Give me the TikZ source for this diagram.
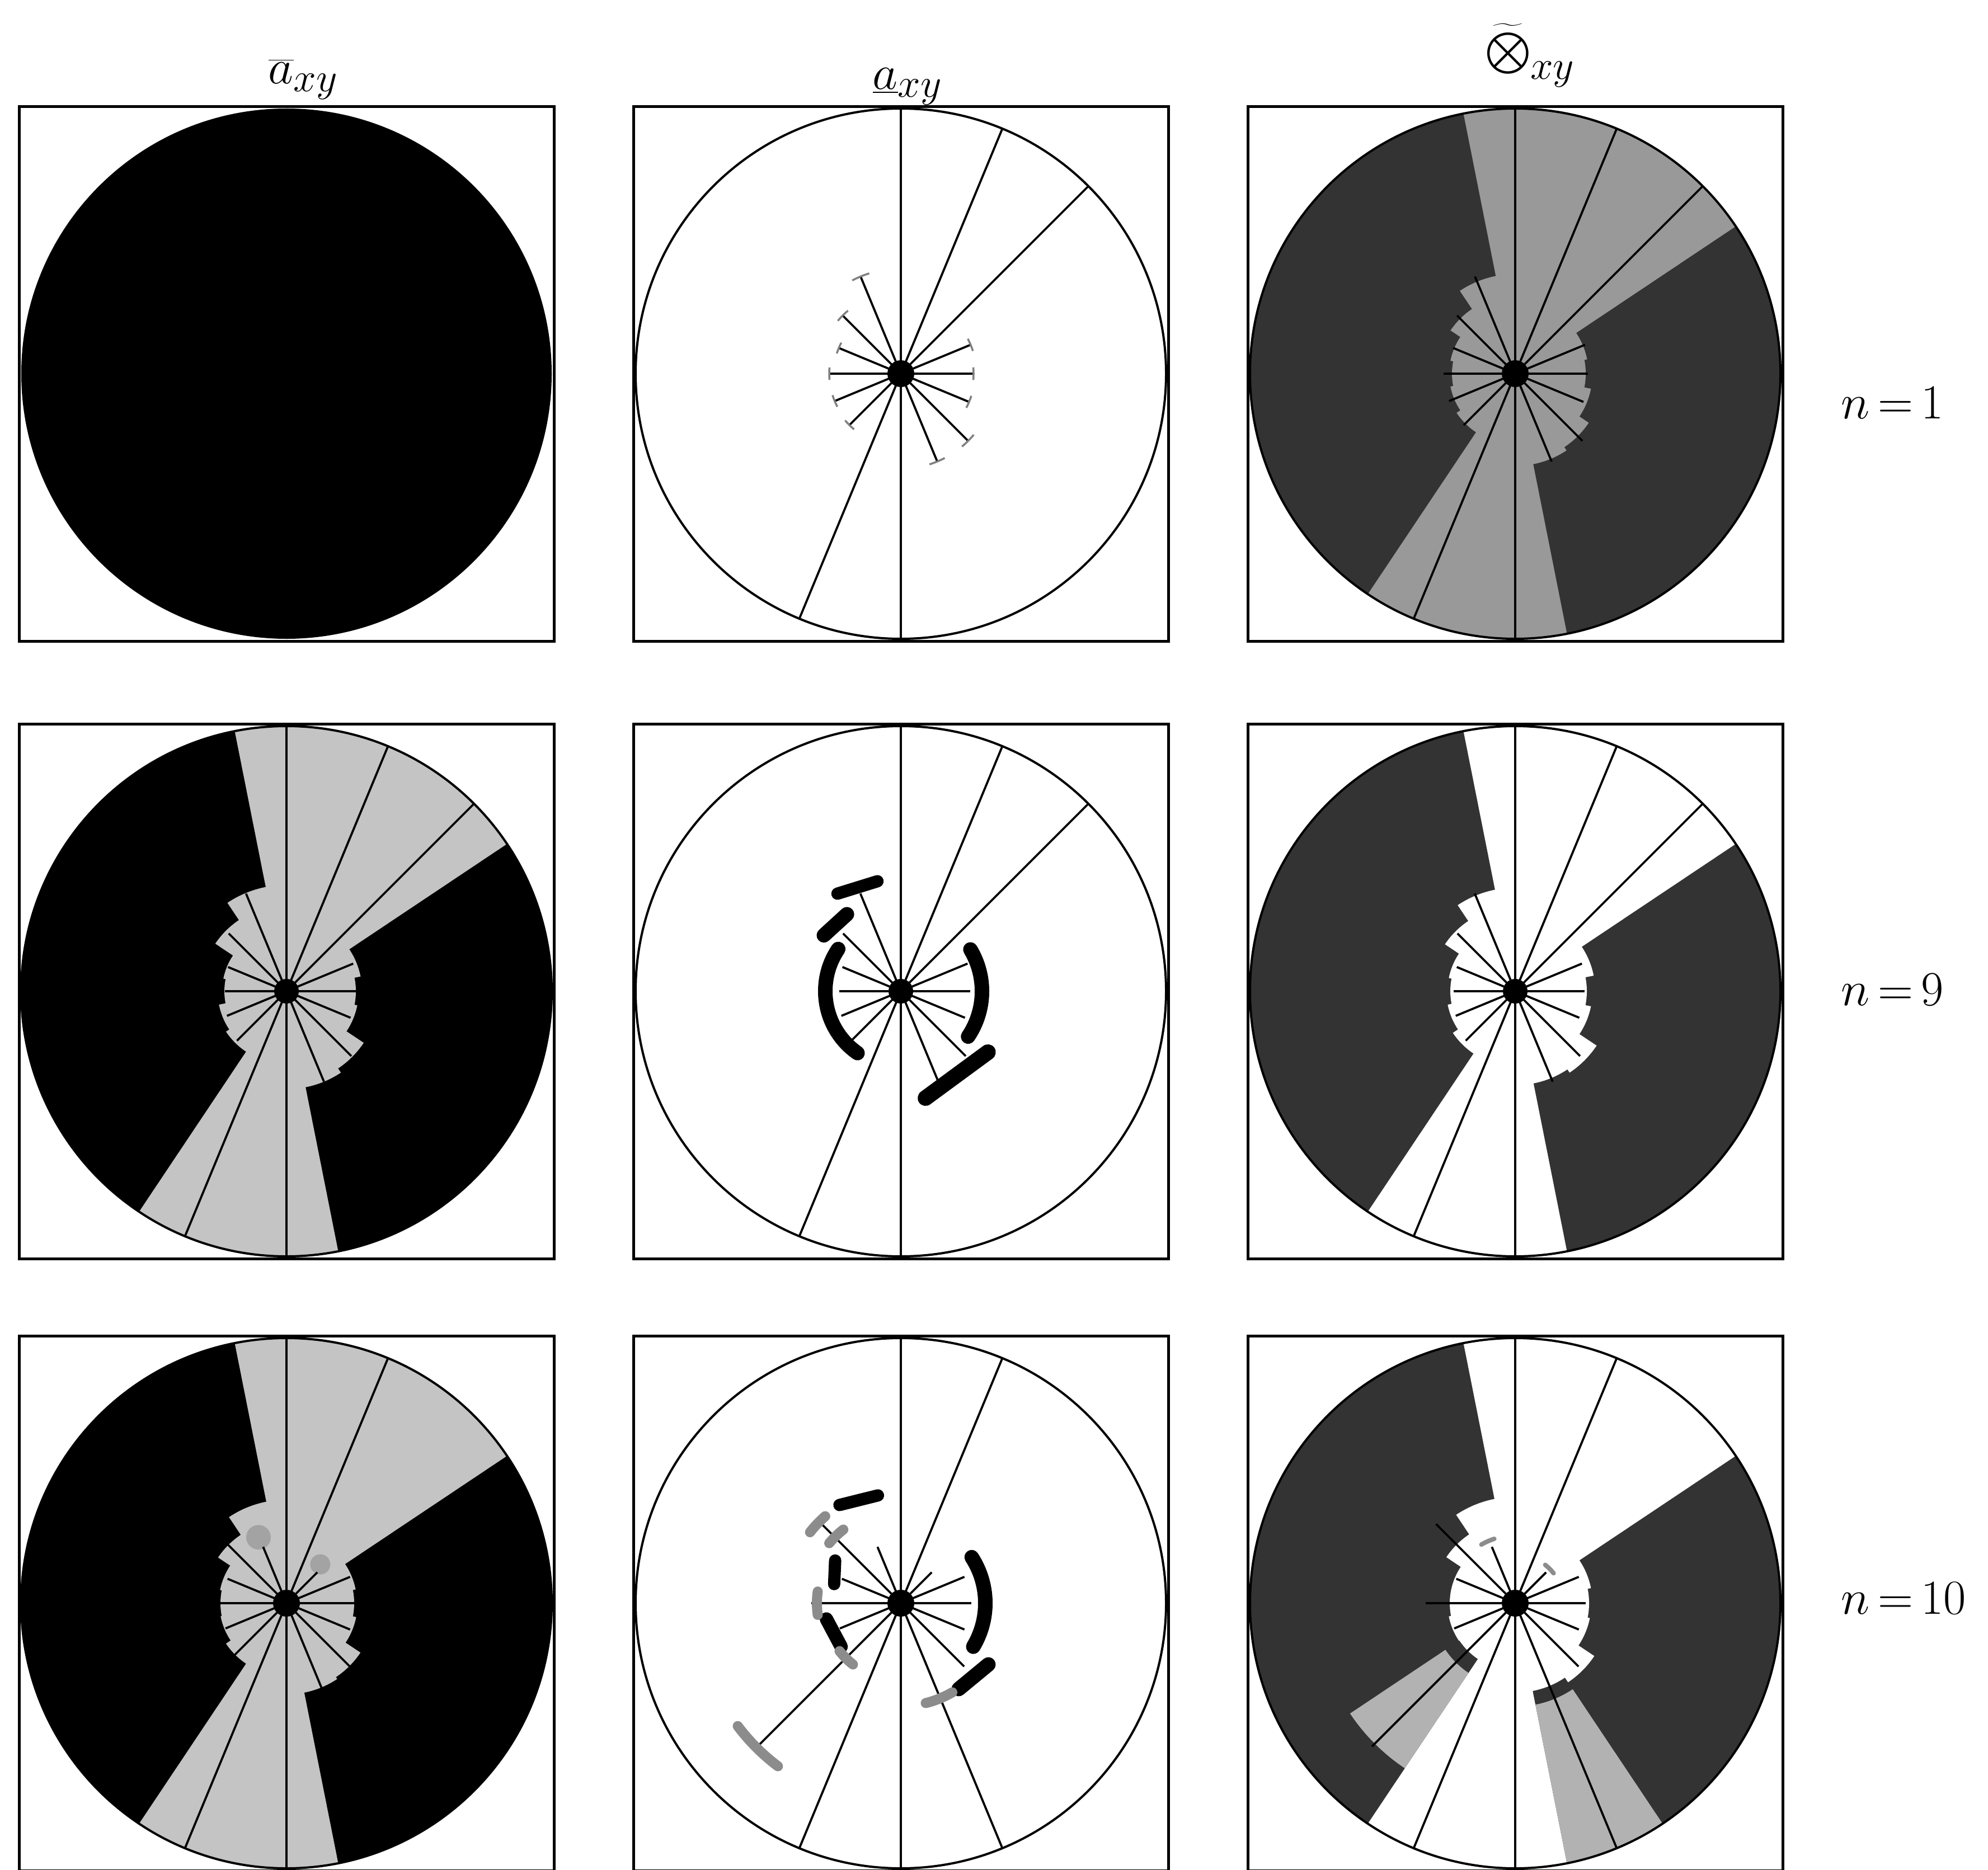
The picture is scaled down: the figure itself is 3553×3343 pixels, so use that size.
\documentclass[tikz,border=0pt]{standalone}
\usepackage{graphicx}
\usepackage{tikz}

\colorlet{dark}{black!80}
\colorlet{mid}{black!40}
\colorlet{lite}{black!23}
\colorlet{pale}{black!30}

% spoke lengths (angle/length) for n=1, n=9, n=10
\def\spokesA{0/130,22.5/135,45/474,67.5/474,90/478,112.5/188,135/147,157.5/120,180/128,202.5/128,225/130,247.5/474,270/478,292.5/170,315/170,337.5/132}
\def\spokesB{0/124,22.5/129,45/474,67.5/474,90/478,112.5/189,135/146,157.5/113,180/110,202.5/115,225/125,247.5/474,270/478,292.5/175,315/164,337.5/124}
\def\spokesC{0/126,22.5/123,45/78,67.5/474,90/478,112.5/109,135/200,157.5/114,180/160,202.5/118,225/362,247.5/474,270/478,292.5/474,315/160,337.5/123}
% light part of the disc (angle/radius)
\def\flowerAc{0/126,22.5/131,45/474,67.5/474,90/474,112.5/178,135/139,157.5/118,180/113,202.5/118,225/126,247.5/474,270/474,292.5/165,315/158,337.5/138}
\def\flowerBa{0/124,22.5/135,45/474,67.5/474,90/474,112.5/190,135/153,157.5/115,180/111,202.5/123,225/130,247.5/474,270/474,292.5/175,315/166,337.5/129}
\def\flowerBc{0/128,22.5/143,45/474,67.5/474,90/474,112.5/185,135/151,157.5/121,180/116,202.5/123,225/134,247.5/474,270/474,292.5/168,315/175,337.5/138}
\def\flowerCa{0/121,22.5/126,45/474,67.5/474,90/474,112.5/185,135/147,157.5/121,180/118,202.5/120,225/130,247.5/474,270/474,292.5/163,315/159,337.5/127}
\def\flowerCc{0/132,22.5/138,45/474,67.5/474,90/474,112.5/190,135/148,157.5/117,180/117,202.5/121,225/120,247.5/474,270/474,292.5/160,315/170,337.5/136}

% one sector of a ring: angle, inner radius, outer radius, colour
\newcommand{\ringpart}[4]{\fill[#4] ({#1-11.25}:#2) arc[start angle={#1-11.25}, end angle={#1+11.25}, radius=#2] -- ({#1+11.25}:#3) arc[start angle={#1+11.25}, end angle={#1-11.25}, radius=#3] -- cycle;}

\begin{document}
\thickmuskip=3mu\relax
\begin{tikzpicture}[x=0.1mm, y=0.1mm,
    panel/.style={rectangle, draw, line width=0.5mm, minimum size=95.6mm, inner sep=0pt},
    rim/.style={line width=0.4mm},
    ray/.style={line width=0.38mm},
    blob/.style={line width=2.6mm, line cap=round},
    speck/.style={line width=1.8mm, line cap=round, black!45},
    endtick/.style={line width=0.35mm, black!50},
    tag/.style={font=\fontsize{24.88}{29}\selectfont, inner sep=0pt}
]
\path[use as bounding box, fill=white] (0,0) rectangle (3553,-3343);
% panel centres
\coordinate (c11) at (512,-668);
\coordinate (c12) at (1610,-668);
\coordinate (c13) at (2708,-668);
\coordinate (c21) at (512,-1772);
\coordinate (c22) at (1610,-1772);
\coordinate (c23) at (2708,-1772);
\coordinate (c31) at (512,-2866);
\coordinate (c32) at (1610,-2866);
\coordinate (c33) at (2708,-2866);

% ---------- n=1 ----------
\begin{scope}[shift={(c11)}]
\fill (0,0) circle (474);
\end{scope}
\begin{scope}[shift={(c12)}]
\draw[rim] (0,0) circle (474);
\foreach \a/\r in \spokesA \draw[ray] (0,0) -- (\a:\r);
\fill (0,0) circle (24);
\foreach \a/\r in {0/130,22.5/135,112.5/188,135/147,157.5/120,180/128,202.5/128,225/130,292.5/170,315/170,337.5/132}
  \draw[endtick] ({\a-5}:\r) arc[start angle={\a-5}, end angle={\a+5}, radius=\r];
\end{scope}
\begin{scope}[shift={(c13)}]
\fill[dark] (0,0) circle (474);
\fill[mid] (0,0) \foreach \a/\r in \flowerAc {-- ({\a-11.25}:\r) arc[start angle={\a-11.25}, end angle={\a+11.25}, radius=\r]} -- cycle;
\draw[rim] (0,0) circle (474);
\foreach \a/\r in \spokesA \draw[ray] (0,0) -- (\a:\r);
\fill (0,0) circle (24);
\end{scope}

% ---------- n=9 ----------
\begin{scope}[shift={(c21)}]
\fill (0,0) circle (474);
\fill[lite] (0,0) \foreach \a/\r in \flowerBa {-- ({\a-11.25}:\r) arc[start angle={\a-11.25}, end angle={\a+11.25}, radius=\r]} -- cycle;
\draw[rim] (0,0) circle (474);
\foreach \a/\r in \spokesB \draw[ray] (0,0) -- (\a:\r);
\fill (0,0) circle (22);
\end{scope}
\begin{scope}[shift={(c22)}]
\draw[rim] (0,0) circle (474);
\foreach \a/\r in \spokesB \draw[ray] (0,0) -- (\a:\r);
\fill (0,0) circle (22);
\draw[blob] (146:135) arc[start angle=146, end angle=235, radius=135];
\draw[blob] (-34:145) arc[start angle=-34, end angle=31, radius=145];
\draw[blob, line width=2.8mm] (-77:196) -- (-35:190);
\draw[blob, line width=2.2mm] (123:208) -- (102:201);
\draw[blob] (144:170) -- (125:168);
\end{scope}
\begin{scope}[shift={(c23)}]
\fill[dark] (0,0) circle (474);
\fill[white] (0,0) \foreach \a/\r in \flowerBc {-- ({\a-11.25}:\r) arc[start angle={\a-11.25}, end angle={\a+11.25}, radius=\r]} -- cycle;
\draw[rim] (0,0) circle (474);
\foreach \a/\r in \spokesB \draw[ray] (0,0) -- (\a:\r);
\fill (0,0) circle (22);
\end{scope}

% ---------- n=10 ----------
\begin{scope}[shift={(c31)}]
\fill (0,0) circle (474);
\fill[lite] (0,0) \foreach \a/\r in \flowerCa {-- ({\a-11.25}:\r) arc[start angle={\a-11.25}, end angle={\a+11.25}, radius=\r]} -- cycle;
\fill[black!36] (113:128) circle (22);
\fill[black!36] (49:92) circle (18);
\draw[rim] (0,0) circle (474);
\foreach \a/\r in \spokesC \draw[ray] (0,0) -- (\a:\r);
\fill (0,0) circle (24);
\end{scope}
\begin{scope}[shift={(c32)}]
\draw[rim] (0,0) circle (474);
\foreach \a/\r in \spokesC \draw[ray] (0,0) -- (\a:\r);
\fill (0,0) circle (24);
\draw[blob, line width=2.2mm] (122:207) -- (102:197);
\draw[blob, line width=2.2mm] (147:140) -- (164:124);
\draw[blob, line width=2.4mm] (192:136) -- (216:132);
\draw[blob] (-31:151) arc[start angle=-31, end angle=33, radius=151];
\draw[blob] (-56:185) -- (-35:191);
\draw[speck] (128:167) arc[start angle=128, end angle=140, radius=167];
\draw[speck] (131:206) arc[start angle=131, end angle=142, radius=206];
\draw[speck] (172:150) arc[start angle=172, end angle=188, radius=150];
\draw[speck] (218:139) arc[start angle=218, end angle=232, radius=139];
\draw[speck] (217:365) arc[start angle=217, end angle=233, radius=365];
\draw[speck] (284:184) arc[start angle=284, end angle=300, radius=184];
\end{scope}
\begin{scope}[shift={(c33)}]
\fill[dark] (0,0) circle (474);
\fill[white] (0,0) \foreach \a/\r in \flowerCc {-- ({\a-11.25}:\r) arc[start angle={\a-11.25}, end angle={\a+11.25}, radius=\r]} -- cycle;
\ringpart{225}{150}{355}{pale}
\ringpart{292.5}{185}{474}{pale}
\draw[speck, line width=0.8mm] (108:121) arc[start angle=108, end angle=120, radius=121];
\draw[speck, line width=0.8mm] (38:87) arc[start angle=38, end angle=52, radius=87];
\draw[rim] (0,0) circle (474);
\foreach \a/\r in \spokesC \draw[ray] (0,0) -- (\a:\r);
\fill (0,0) circle (24);
\end{scope}

% frames
\node[panel] (b11) at (c11) {};
\node[panel] (b12) at (c12) {};
\node[panel] (b13) at (c13) {};
\node[panel] (b21) at (c21) {};
\node[panel] (b22) at (c22) {};
\node[panel] (b23) at (c23) {};
\node[panel] (b31) at (c31) {};
\node[panel] (b32) at (c32) {};
\node[panel] (b33) at (c33) {};

% column titles and row labels
\node[tag, anchor=base] (tupper) at (542,-150) {$\overline{a}_{xy}$};
\node[tag, anchor=base] (tlower) at (1622,-160) {$\underline{a}_{xy}$};
\node[tag, anchor=base] (tcirc) at (2735,-128) {$\widetilde{\hbox{\scalebox{1.5}{$\displaystyle\bigotimes$}}}_{xy}$};
\node[tag, anchor=base west] (n1) at (3290,-748) {$n=1$};
\node[tag, anchor=base west] (n9) at (3290,-1797) {$n=9$};
\node[tag, anchor=base west] (n10) at (3290,-2885) {$n=10$};
\end{tikzpicture}
\end{document}
